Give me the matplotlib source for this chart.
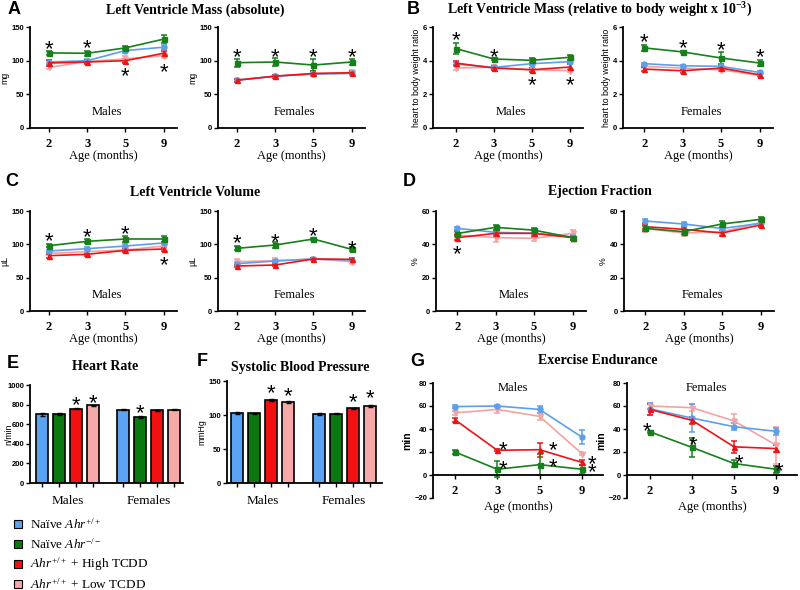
import numpy as np
import matplotlib
matplotlib.use('Agg')
import matplotlib.pyplot as plt
from matplotlib.patches import Rectangle

plt.rcParams['mathtext.fontset'] = 'custom'
plt.rcParams['mathtext.rm'] = 'Liberation Serif'
plt.rcParams['mathtext.it'] = 'Liberation Serif:italic'
plt.rcParams['mathtext.bf'] = 'Liberation Serif:bold'

SANS = 'Liberation Sans'
SERIF = 'Liberation Serif'

ages = ['2', '3', '5', '9']
group_labels = [r'Naïve $\mathit{Ahr}^{+/+}$', r'Naïve $\mathit{Ahr}^{-/-}$',
                r'$\mathit{Ahr}^{+/+}$ + High TCDD', r'$\mathit{Ahr}^{+/+}$ + Low TCDD']
sexes = ['Males', 'Females']

# series order in every list: naive +/+, naive -/-, high TCDD, low TCDD
lvm_males = [[98, 100, 115, 120], [111.5, 111, 119, 132], [96.5, 98, 100, 111], [90, 99, 102.5, 107.5]]
lvm_males_err = [[3, 3, 3, 3], [3, 4, 3, 6], [4, 3, 3, 4], [3, 3, 5, 4]]
lvm_females = [[71, 77, 80, 81], [97, 98, 93.5, 98], [71, 77, 81, 82], [71.5, 77, 80.5, 82.5]]
lvm_females_err = [[2, 2, 2, 2], [6, 6, 9, 4], [2, 2, 3, 2], [2, 2, 3, 3]]
lvm_stars_m = [(0, 126), (1, 127), (2, 85), (3, 91)]
lvm_stars_f = [(0, 114), (1, 114), (2, 113), (3, 114)]

rel_males = [[3.8, 3.6, 3.82, 3.94], [4.72, 4.1, 4.02, 4.2], [3.86, 3.56, 3.46, 3.62], [3.56, 3.62, 3.46, 3.4]]
rel_males_err = [[0.1, 0.1, 0.1, 0.1], [0.3, 0.08, 0.15, 0.15], [0.12, 0.1, 0.12, 0.2], [0.1, 0.12, 0.1, 0.1]]
rel_females = [[3.82, 3.7, 3.66, 3.3], [4.76, 4.52, 4.16, 3.86], [3.5, 3.4, 3.56, 3.16], [3.66, 3.56, 3.46, 3.12]]
rel_females_err = [[0.06, 0.06, 0.06, 0.06], [0.2, 0.08, 0.35, 0.15], [0.1, 0.12, 0.1, 0.08], [0.08, 0.08, 0.08, 0.08]]
rel_stars_m = [(0, 5.56), (1, 4.56), (2, 2.86), (3, 2.86)]
rel_stars_f = [(0, 5.46), (1, 5.06), (2, 4.96), (3, 4.52)]

lvv_males = [[90, 93.5, 97.5, 102], [98, 104.5, 108, 108], [83, 85, 91, 93], [86.5, 89, 91.5, 97.5]]
lvv_males_err = [[2, 3, 3, 2], [2, 3, 4, 4], [3, 2, 2, 3], [2, 2, 2, 3]]
lvv_females = [[71, 75, 78, 76.5], [94, 99, 108, 92.5], [67.5, 69, 78, 77.5], [74, 75.5, 78, 74]]
lvv_females_err = [[2, 2, 2, 2], [3, 4, 1, 3], [2, 2, 2, 2], [4, 4, 2, 4]]
lvv_stars_m = [(0, 114), (1, 120), (2, 124), (3, 77)]
lvv_stars_f = [(0, 110), (1, 112), (2, 121), (3, 102)]

ef_males = [[49.6, 47.2, 46.6, 44.5], [46.5, 50.2, 48.5, 44], [44, 46.6, 46.6, 44], [45.6, 44, 43.6, 46.6]]
ef_males_err = [[1, 1, 1, 1], [1.5, 1.5, 1.5, 1.2], [1.5, 1.5, 2, 1.2], [1.5, 2.5, 1.5, 2]]
ef_females = [[54, 52.2, 49.5, 52.6], [49.6, 47.6, 52.2, 55], [50.6, 49, 46.8, 51.6], [49.5, 46.8, 47.5, 53]]
ef_females_err = [[1.2, 1.2, 1.2, 1.2], [1.5, 1.5, 2, 1.5], [1.5, 1.5, 1.5, 1.2], [2, 2, 2, 2]]
ef_stars_m = [(0, 37.5)]
ef_stars_f = []

hr = [[700, 700, 759, 793], [748, 673, 742, 748]]
hr_err = [[12, 10, 8, 6], [6, 10, 6, 6]]
hr_stars = [(2, 848), (3, 868), (5, 768)]

sbp = [[103, 102.5, 122, 119], [101.5, 102, 110, 113.5]]
sbp_err = [[1, 1, 1, 1], [1, 1, 1, 1]]
sbp_stars = [(2, 141), (3, 136), (6, 128), (7, 133)]

ex_males = [[59.5, 60, 57, 33], [20, 5, 9, 5], [48, 21.5, 22, 11], [54, 57, 51, 18.5]]
ex_males_err = [[1, 1, 3, 6], [2, 7, 9, 4], [2, 1, 6, 2], [2, 3, 3, 1]]
ex_females = [[57.5, 49.5, 42, 38], [37.5, 24, 10, 5], [57, 47.5, 24.5, 23], [60, 58.5, 47, 26]]
ex_females_err = [[5, 12, 3, 3], [1, 8, 3, 3], [5, 3, 5, 3], [3, 3, 6, 16]]
ex_stars_m = [(1.13, 27), (1.13, 10), (2.31, 27), (2.31, 12), (3.24, 14.5), (3.24, 7.5)]
ex_stars_f = [(-0.07, 43.5), (1.02, 30.5), (2.12, 15), (3.07, 8.5)]

LINE_COLORS = ['#5c9fec', '#17801a', '#ec1414', '#f5a2a2']
BAR_COLORS = ['#5aa2f2', '#0a7a10', '#f21010', '#f7a8a8']
MARKERS = ['o', 's', '^', 'v']
DRAW_ORDER = [3, 0, 2, 1]

W, H = 800, 590
fig = plt.figure(figsize=(W / 100, H / 100), dpi=100)


def px_axes(x0, x1, ytop, ybot):
    return fig.add_axes([x0 / W, 1 - ybot / H, (x1 - x0) / W, (ybot - ytop) / H])


def ftext(x, y, s, **kw):
    fig.text(x / W, 1 - y / H, s, **kw)


def star(ax, x, y):
    ax.annotate('*', (x, y), xytext=(0, -4.5), textcoords='offset points', ha='center',
                va='center', fontsize=16, family=SANS, color='black')


def base_style(ax, ylim, yticks, ylabel, ylabel_size=6.3, ylabel_weight='normal'):
    for s in ['top', 'right']:
        ax.spines[s].set_visible(False)
    for s in ['left', 'bottom']:
        ax.spines[s].set_linewidth(1.3)
    ax.set_ylim(*ylim)
    ax.set_yticks(yticks)
    ax.tick_params(axis='y', labelsize=5.5, length=3, width=1, pad=1)
    for lab in ax.get_yticklabels():
        lab.set_family(SANS)
        lab.set_fontweight('bold')
    ax.set_ylabel(ylabel, family=SANS, fontsize=ylabel_size, fontweight=ylabel_weight, labelpad=1.5)


def line_panel(ax, series, errs, xlim, ylim, yticks, ylabel, sex, stars, g_style=False):
    x = np.arange(len(ages))
    for gi in DRAW_ORDER:
        ax.errorbar(x, series[gi], yerr=errs[gi], color=LINE_COLORS[gi], marker=MARKERS[gi],
                    ms=3.6, lw=1.2, capsize=2.2, elinewidth=1.1, capthick=1.1)
    for sx, sy in stars:
        star(ax, sx, sy)
    if g_style:
        base_style(ax, ylim, yticks, ylabel, ylabel_size=7.5, ylabel_weight='bold')
        ax.spines['bottom'].set_position(('data', 0))
        ax.text(0.47, 0.955, sex, transform=ax.transAxes, ha='center', va='center',
                family=SERIF, fontsize=9)
        ax.set_xlabel('Age (months)', family=SERIF, fontsize=9, labelpad=3)
    else:
        base_style(ax, ylim, yticks, ylabel)
        ax.text(0.52, 0.16, sex, transform=ax.transAxes, ha='center', va='center',
                family=SERIF, fontsize=9)
        ax.set_xlabel('Age (months)', family=SERIF, fontsize=9, labelpad=0)
    ax.set_xlim(*xlim)
    ax.set_xticks(x, ages)
    ax.tick_params(axis='x', labelsize=9, length=3, width=1, pad=4)
    for lab in ax.get_xticklabels():
        lab.set_family(SERIF)
        lab.set_fontweight('bold')


def bar_panel(ax, vals, errs, xlim, ylim, yticks, ylabel, stars, gap=4.78):
    pos = []
    for g in range(len(sexes)):
        for i in range(4):
            p = i + g * gap
            pos.append(p)
            ax.bar(p, vals[g][i], width=0.72, color=BAR_COLORS[i], edgecolor='black', lw=1.2,
                   yerr=errs[g][i], capsize=1.8, error_kw=dict(elinewidth=1, capthick=1), zorder=2)
    for sx, sy in stars:
        star(ax, pos[sx], sy)
    base_style(ax, ylim, yticks, ylabel)
    ax.set_xlim(*xlim)
    ax.set_xticks(pos, [''] * len(pos))
    ax.tick_params(axis='x', which='major', length=3, width=1)
    ax.set_xticks([1.5, 1.5 + gap], sexes, minor=True)
    ax.tick_params(axis='x', which='minor', length=0, pad=9, labelsize=9.5)
    for lab in ax.get_xticklabels(minor=True):
        lab.set_family(SERIF)


# ---- A
ax = px_axes(30, 177, 27, 128)
line_panel(ax, lvm_males, lvm_males_err, (-0.5, 3.35), (0, 150), [0, 50, 100, 150], 'mg', 'Males', lvm_stars_m)
ax = px_axes(218, 365, 27, 128)
line_panel(ax, lvm_females, lvm_females_err, (-0.5, 3.35), (0, 150), [0, 50, 100, 150], 'mg', 'Females', lvm_stars_f)

# ---- B
ax = px_axes(433, 583, 27, 128)
line_panel(ax, rel_males, rel_males_err, (-0.6, 3.35), (0, 6), [0, 2, 4, 6], 'heart to body weight ratio', 'Males', rel_stars_m)
ax = px_axes(623, 773, 27, 128)
line_panel(ax, rel_females, rel_females_err, (-0.55, 3.35), (0, 6), [0, 2, 4, 6], 'heart to body weight ratio', 'Females', rel_stars_f)

# ---- C
ax = px_axes(30, 177, 211, 311)
line_panel(ax, lvv_males, lvv_males_err, (-0.5, 3.35), (0, 150), [0, 50, 100, 150], 'µL', 'Males', lvv_stars_m)
ax = px_axes(218, 365, 211, 311)
line_panel(ax, lvv_females, lvv_females_err, (-0.5, 3.35), (0, 150), [0, 50, 100, 150], 'µL', 'Females', lvv_stars_f)

# ---- D
ax = px_axes(436, 586, 211, 311)
line_panel(ax, ef_males, ef_males_err, (-0.55, 3.35), (0, 60), [0, 20, 40, 60], '%', 'Males', ef_stars_m)
ax = px_axes(624, 774, 211, 311)
line_panel(ax, ef_females, ef_females_err, (-0.55, 3.35), (0, 60), [0, 20, 40, 60], '%', 'Females', ef_stars_f)

# ---- E
ax = px_axes(30, 183, 385, 483)
bar_panel(ax, hr, hr_err, (-0.7, 8.3), (0, 1000), [0, 200, 400, 600, 800, 1000], 'n/min', hr_stars)
ax.yaxis.set_label_coords(-0.11, 0.5)

# ---- F
ax = px_axes(227, 382, 381, 483)
bar_panel(ax, sbp, sbp_err, (-0.6, 8.5), (0, 150), [0, 50, 100, 150], 'mmHg', sbp_stars)

# ---- G
ax = px_axes(433, 603, 383, 498)
line_panel(ax, ex_males, ex_males_err, (-0.52, 3.5), (-20, 80), [-20, 0, 20, 40, 60, 80], 'min', 'Males', ex_stars_m, g_style=True)
ax = px_axes(627, 797, 383, 498)
line_panel(ax, ex_females, ex_females_err, (-0.55, 3.5), (-20, 80), [-20, 0, 20, 40, 60, 80], 'min', 'Females', ex_stars_f, g_style=True)

# titles and panel letters
title_kw = dict(family=SERIF, fontweight='bold', fontsize=10, ha='center', va='center')
ftext(195, 10, 'Left Ventricle Mass (absolute)', **title_kw)
ftext(600, 10, r'Left Ventricle Mass (relative to body weight x 10$^{\mathbf{-3}}$)', **title_kw)
ftext(195, 192, 'Left Ventricle Volume', **title_kw)
ftext(600, 192, 'Ejection Fraction', **title_kw)
ftext(105, 367, 'Heart Rate', **title_kw)
ftext(300, 368, 'Systolic Blood Pressure', **title_kw)
ftext(598, 360, 'Exercise Endurance', **title_kw)

letter_kw = dict(family=SANS, fontweight='bold', fontsize=13, ha='center', va='center')
for letter, lx, ly in [('A', 14, 10), ('B', 413, 10), ('C', 12, 182), ('D', 409, 182),
                       ('E', 13, 364), ('F', 202, 362), ('G', 417, 362)]:
    ftext(lx, ly, letter, **letter_kw)

# legend keys
for i, (lab, c) in enumerate(zip(group_labels, BAR_COLORS)):
    ly = 524 + 20 * i
    fig.patches.append(Rectangle((14 / W, 1 - (ly + 4) / H), 8 / W, 8 / H, transform=fig.transFigure,
                                 facecolor=c, edgecolor='black', lw=0.8))
    ftext(30, ly, lab, family=SERIF, fontsize=9.5, va='center')

fig.savefig('out.png', dpi=100)
